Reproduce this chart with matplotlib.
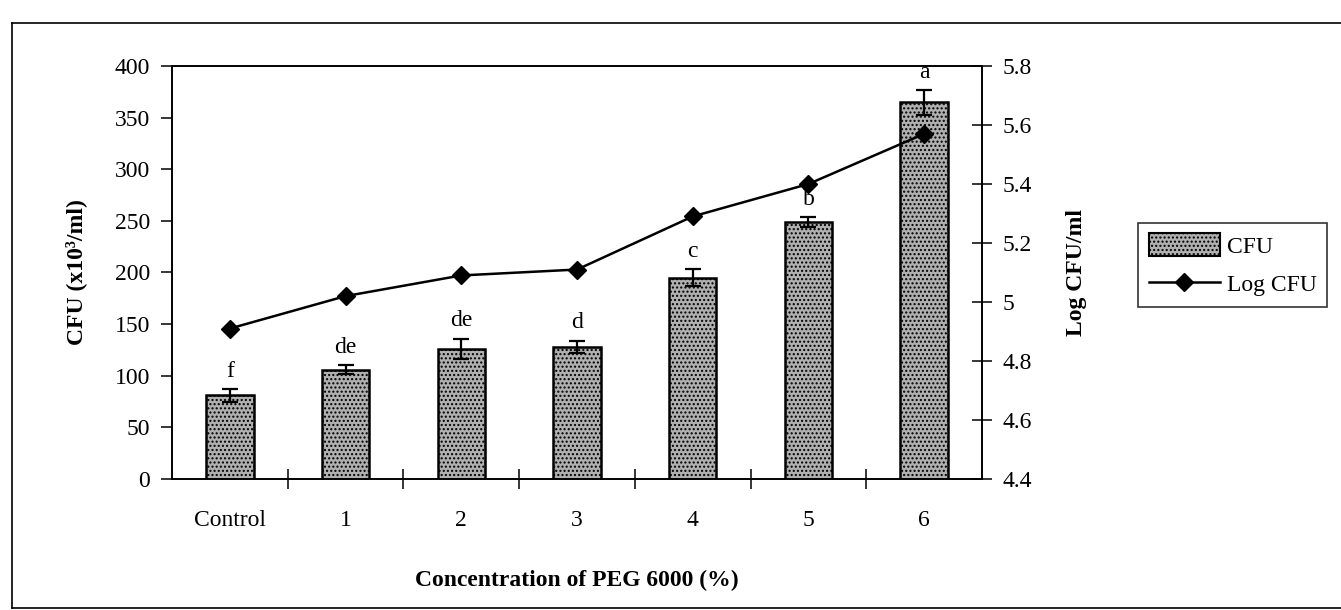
import matplotlib
matplotlib.use('Agg')
import matplotlib.pyplot as plt
import numpy as np
from matplotlib.patches import Patch
from matplotlib.lines import Line2D

plt.rcParams['font.family'] = ['Liberation Serif', 'DejaVu Serif']
plt.rcParams['hatch.color'] = '#6e6e6e'

# data
categories = ['Control', '1', '2', '3', '4', '5', '6']
cfu = [81, 106, 126, 128, 195, 249, 365]
cfu_err = [6, 4, 10, 6, 8, 5, 12]
log_cfu = [4.91, 5.02, 5.09, 5.11, 5.29, 5.40, 5.57]
letters = ['f', 'de', 'de', 'd', 'c', 'b', 'a']
left_ticks = [0, 50, 100, 150, 200, 250, 300, 350, 400]
right_ticks = [4.4, 4.6, 4.8, 5.0, 5.2, 5.4, 5.6, 5.8]
right_labels = ['4.4', '4.6', '4.8', '5', '5.2', '5.4', '5.6', '5.8']

fig = plt.figure(figsize=(13.41, 6.10), dpi=100)
ax = fig.add_axes([0.1283, 0.2148, 0.6040, 0.6770])
x = np.arange(len(categories))

# bars
ax.bar(x, cfu, width=0.41, color='#b0b0b0', edgecolor='black',
       linewidth=1.8, hatch='....', zorder=2)
ax.errorbar(x, cfu, yerr=cfu_err, fmt='none', ecolor='black',
            elinewidth=1.6, capsize=6, capthick=1.6, zorder=3)

# significance letters
for xi, v, e, t in zip(x, cfu, cfu_err, letters):
    ax.text(xi, v + e + 7, t, ha='center', va='bottom', fontsize=17)

ax.set_xlim(-0.5, len(categories) - 0.5)
ax.set_ylim(0, 400)
ax.set_yticks(left_ticks)
ax.set_xticks(x)
ax.set_xticklabels(categories)
ax.set_xticks(np.arange(0.5, len(categories) - 1, 1), minor=True)
ax.tick_params(axis='x', which='major', length=0, pad=22, labelsize=17)
ax.tick_params(axis='x', which='minor', direction='inout', length=14, width=1.1)
ax.tick_params(axis='y', direction='out', length=8, width=1.1, pad=8, labelsize=17)
for s in ax.spines.values():
    s.set_linewidth(1.2)

ax.set_ylabel('CFU (x10³/ml)', fontsize=17, fontweight='bold', labelpad=20)
ax.set_xlabel('Concentration of PEG 6000 (%)', fontsize=17, fontweight='bold',
              labelpad=28)

# log line on the right axis
ax2 = ax.twinx()
ax2.plot(x, log_cfu, color='black', linewidth=1.8, marker='D', markersize=9,
         zorder=4)
ax2.set_ylim(4.4, 5.8)
ax2.set_yticks(right_ticks)
ax2.set_yticklabels(right_labels)
ax2.tick_params(axis='y', direction='inout', length=14, width=1.1, pad=8,
                labelsize=17)
ax2.set_ylabel('Log CFU/ml', fontsize=17, fontweight='bold', labelpad=24)
for s in ax2.spines.values():
    s.set_linewidth(1.2)

# legend
handles = [Patch(facecolor='#b0b0b0', edgecolor='black', hatch='....', linewidth=1.5),
           Line2D([0], [0], color='black', linewidth=1.8, marker='D', markersize=9)]
leg = fig.legend(handles, ['CFU', 'Log CFU'], loc='center left',
                 bbox_to_anchor=(0.840, 0.566), fontsize=17, frameon=True,
                 fancybox=False, edgecolor='black', handlelength=3.0,
                 handleheight=1.1, handletextpad=0.3, borderpad=0.45,
                 labelspacing=0.6)
leg.get_frame().set_linewidth(1.2)

# outer chart border
fig.add_artist(Line2D([0.009, 0.009], [0.004, 0.962], color='black', linewidth=1.2))
fig.add_artist(Line2D([0.009, 1.0], [0.962, 0.962], color='black', linewidth=1.2))
fig.add_artist(Line2D([0.009, 1.0], [0.004, 0.004], color='black', linewidth=1.2))

fig.savefig('out.png', dpi=100)
